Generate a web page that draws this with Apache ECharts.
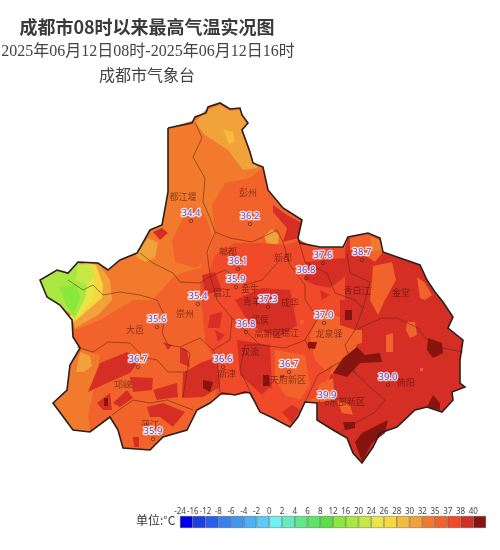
<!DOCTYPE html>
<html>
<head>
<meta charset="utf-8">
<style>html,body{margin:0;background:#fff}#chart{width:500px;height:550px}</style>
<script src="https://cdn.jsdelivr.net/npm/echarts@6/dist/echarts.min.js"></script>
</head>
<body>
<div id="chart"></div>
<script>
// colour scale (°C)
const scaleTicks = [-24,-16,-12,-8,-6,-4,-2,0,2,4,6,8,12,16,20,24,26,28,30,32,35,37,38,40];
const scaleColors = ["#0000e6","#1d3fe2","#2a5fee","#3a7fee","#3f96ec","#4cb0f2","#5ccbf5","#6ff0f2","#66eac0","#62e68e","#5ee466","#58e044","#8ae83c","#a9e840","#c8e845","#e8e648","#f8d640","#f5bb3c","#f2a23a","#f27a2d","#f2622b","#f04a2a","#d52e24","#881410"];

// stations
const stationValues = [34.4,36.2,36.1,35.9,35.4,37.3,36.8,36.8,37.6,38.7,37.0,36.7,36.6,39.9,39.0,35.6,36.7,35.9];
const stationX = [191,250,238,236,198,268,246,306,323,362,324,289,223,327,388,157,138,153];
const stationY = [221,224,269,287,304,307,332,278,263,260,323,372,367,403,385,327,367,439];

// district names
const districtNames = ["都江堰","彭州","郫都","新都","青白江","金堂","温江","崇州","大邑","邛崃","蒲江","新津","双流","天府新区","龙泉驿","简阳","东部新区","金牛","青羊","成华","武侯","高新区","锦江"];
const districtX = [183,248,228,283,357,401,222,185,135,123,150,227,250,288,329,406,347,250,252,290,260,268,290];
const districtY = [197,193,252,258,291,293,293,314,330,385,425,374,352,380,334,383,402,289,302,303,320,334,333];

// map sheet: x east, y south
const outline = [[168,128],[192,123],[195,117],[206,113],[208,107],[220,103],[230,109],[240,108],[242,115],[248,123],[242,130],[250,152],[253,163],[263,167],[268,190],[283,208],[302,220],[298,238],[300,243],[320,247],[343,247],[348,237],[368,233],[380,238],[383,252],[400,258],[420,265],[427,280],[435,292],[443,302],[453,317],[448,328],[463,340],[460,360],[460,383],[465,387],[452,392],[453,400],[442,412],[427,407],[415,410],[397,427],[380,433],[373,447],[362,463],[353,453],[347,438],[333,430],[317,420],[317,403],[305,402],[298,417],[290,427],[273,418],[260,412],[255,402],[250,393],[245,392],[235,395],[222,393],[210,403],[197,410],[187,430],[163,437],[150,450],[123,448],[118,430],[110,417],[90,432],[73,430],[53,403],[67,390],[70,365],[80,348],[73,337],[72,320],[60,305],[47,297],[40,280],[57,270],[68,273],[78,262],[98,263],[108,270],[120,260],[137,253],[140,248],[150,230],[162,225],[168,192]];

const districtLines = [
  [[195,122],[202,138],[193,157],[205,178],[203,202],[210,218],[215,232],[207,252],[210,275],[217,300],[232,318],[230,340],[213,350]],
  [[215,232],[230,238],[252,242],[263,237],[277,230],[283,242],[290,265],[305,285],[305,300],[318,318],[305,340],[285,348],[260,345],[240,325],[232,318]],
  [[140,253],[153,263],[173,273],[180,282],[200,283],[207,278],[225,270],[245,285],[262,280],[280,260]],
  [[68,280],[83,290],[93,285],[103,295],[120,292],[140,295],[157,300],[165,317],[162,333],[168,345],[180,347],[200,338],[213,350],[217,357],[220,392]],
  [[77,347],[93,352],[108,342],[130,343],[143,357],[157,360],[168,372],[187,372],[190,353],[182,348]],
  [[112,415],[133,400],[150,403],[167,400],[193,410]],
  [[187,372],[183,397]],
  [[298,238],[305,262],[327,273],[335,293],[355,300],[363,308]],
  [[347,253],[350,273],[370,282],[363,308],[355,330],[382,318],[397,318],[418,328],[425,338],[443,348],[463,352]],
  [[355,330],[345,345],[355,373],[370,387],[385,400],[375,412],[343,430]],
  [[355,373],[340,362],[318,375],[305,402]],
  [[310,350],[305,340]],
  [[255,402],[240,370],[245,345],[260,345]]
];

// temperature patches, painted in this order over the outline
const heatValues = [33,36,31,31,29,38,38,38,31,31,
  30,27,25,18,22,13,33,31,
  37.5,39,36,36,39,39,39,39,39,39,39,39,
  36,33,36,36,36,36,36,36,36,39,39,36,36,
  39,39,39,39,39,39,39,39,39,39,39,39,40,40,40,40,40,40,40,40,40,40];
const heatRings = [
  [[168,128],[195,120],[208,108],[220,104],[230,110],[240,109],[247,123],[242,130],[250,152],[253,163],[262,168],[250,178],[225,183],[212,205],[215,232],[208,255],[200,268],[185,272],[173,277],[153,300],[133,300],[100,320],[75,330],[72,320],[60,305],[47,297],[40,280],[57,270],[68,273],[78,262],[98,263],[108,270],[120,260],[137,253],[140,248],[150,230],[162,225],[168,192]],
  [[190,205],[205,215],[212,235],[205,262],[195,268],[175,262],[172,240]],
  [[135,256],[148,238],[158,243],[155,258],[145,262]],
  [[195,122],[208,110],[220,105],[230,111],[240,110],[246,123],[241,131],[248,150],[252,160],[258,168],[243,170],[228,150],[205,135]],
  [[223,129],[233,132],[235,142],[229,144]],
  [[153,232],[162,228],[168,233],[160,240]],
  [[273,205],[287,215],[302,223],[298,238],[283,242],[287,228],[273,212]],
  [[277,245],[293,246],[295,260],[278,265]],
  [[264,236],[272,229],[279,235],[278,247],[270,250]],
  [[296,258],[302,252],[308,258],[304,268],[298,266]],
  [[88,263],[100,265],[110,280],[112,300],[98,315],[75,328],[73,320],[80,305]],
  [[85,263],[96,265],[103,285],[102,298],[88,310],[74,322],[72,318]],
  [[80,264],[90,265],[95,285],[92,300],[78,318],[70,318]],
  [[41,280],[57,271],[68,274],[78,263],[86,266],[88,280],[85,298],[75,318],[60,305],[47,297]],
  [[78,265],[90,264],[95,275],[88,285],[76,280]],
  [[60,288],[76,284],[80,298],[74,315],[66,305]],
  [[70,365],[82,350],[100,355],[95,385],[88,415],[90,432],[73,430],[53,403],[67,390]],
  [[80,352],[90,356],[92,366],[84,372],[76,372]],
  [[200,283],[207,278],[215,255],[235,243],[263,243],[285,245],[300,240],[315,248],[345,248],[345,300],[345,340],[320,395],[305,402],[298,417],[290,425],[273,417],[258,410],[250,393],[235,395],[215,395],[220,370],[205,340]],
  [[345,248],[348,238],[368,234],[380,239],[383,252],[400,258],[420,265],[427,280],[435,292],[443,302],[453,317],[448,328],[463,340],[460,360],[460,383],[465,387],[452,392],[453,400],[442,412],[427,407],[415,410],[397,427],[380,433],[373,447],[362,463],[353,453],[347,438],[333,430],[317,420],[317,403],[325,395],[330,375],[350,365],[360,335],[345,300]],
  [[322,310],[345,320],[353,335],[345,355],[325,370],[315,360],[310,335]],
  [[275,350],[305,355],[310,385],[300,400],[285,395],[275,380]],
  [[202,275],[215,272],[222,290],[205,295]],
  [[210,315],[222,312],[220,328],[208,328]],
  [[235,300],[262,288],[290,290],[297,325],[278,338],[250,325]],
  [[237,340],[270,345],[272,385],[262,395],[240,375]],
  [[282,412],[292,405],[300,410],[292,423]],
  [[305,262],[345,258],[347,275],[330,288],[315,285],[305,280]],
  [[340,300],[360,300],[365,320],[355,330],[340,325]],
  [[133,437],[139,437],[139,447],[134,447]],
  [[350,238],[368,234],[379,240],[383,252],[375,262],[360,252],[350,250]],
  [[370,236],[380,240],[383,250],[372,252]],
  [[373,266],[392,262],[396,280],[385,300],[378,315],[370,300],[372,280]],
  [[417,277],[425,283],[432,295],[425,300],[420,298]],
  [[407,322],[415,322],[417,335],[410,338],[406,330]],
  [[386,335],[393,333],[393,352],[386,352]],
  [[355,330],[362,330],[362,343],[355,345]],
  [[337,400],[350,405],[353,415],[342,413]],
  [[318,385],[333,378],[335,400],[320,402]],
  [[163,342],[172,345],[168,350]],
  [[280,375],[284,375],[284,378],[280,378]],
  [[300,320],[304,320],[304,324],[300,324]],
  [[420,368],[423,368],[423,371],[420,371]],
  [[88,392],[100,363],[127,352],[140,360],[130,373],[107,383]],
  [[130,377],[153,378],[152,390],[133,392]],
  [[97,403],[110,393],[112,410],[103,410]],
  [[113,403],[127,390],[133,398],[120,407]],
  [[153,390],[177,383],[178,397],[157,400]],
  [[147,407],[163,403],[185,412],[173,427],[160,417],[150,417]],
  [[180,347],[187,350],[190,367],[180,363]],
  [[183,373],[200,363],[217,357],[220,387],[203,397],[182,398]],
  [[262,372],[271,372],[272,388],[262,388]],
  [[355,255],[362,262],[350,268]],
  [[320,290],[330,295],[322,300]],
  [[215,330],[225,335],[218,342]],
  [[203,380],[213,382],[210,392],[203,388]],
  [[333,373],[343,358],[357,347],[365,355],[380,353],[382,362],[360,363],[347,377]],
  [[428,338],[442,343],[443,353],[433,358],[427,350]],
  [[355,442],[362,433],[388,420],[385,433],[372,443],[362,462]],
  [[427,407],[433,395],[440,403],[440,410]],
  [[343,422],[355,422],[355,428],[345,430]],
  [[345,310],[352,310],[352,320],[345,320]],
  [[308,342],[317,342],[315,349],[308,348]],
  [[263,375],[269,375],[270,386],[263,386]],
  [[104,398],[108,398],[108,406],[104,406]]
];

const ringName = i => "patch" + i;
const features = [{ type: "Feature", properties: { name: "base" }, geometry: { type: "Polygon", coordinates: [outline.concat([outline[0]])] } }];
heatRings.forEach((ring, i) => {
  features.push({ type: "Feature", properties: { name: ringName(i) }, geometry: { type: "Polygon", coordinates: [ring.concat([ring[0]])] } });
});
echarts.registerMap("chengdu", { type: "FeatureCollection", features: features });

const chart = echarts.init(document.getElementById("chart"));

const pieces = scaleTicks.map((t, i) => (
  i < scaleTicks.length - 1
    ? { gte: t, lt: scaleTicks[i + 1], color: scaleColors[i] }
    : { gte: t, color: scaleColors[i] }
));

const legendSeries = scaleTicks.map((t, i) => ({
  type: "bar",
  stack: "scale",
  xAxisIndex: 0,
  yAxisIndex: 0,
  data: [1],
  barWidth: "100%",
  silent: true,
  itemStyle: { color: scaleColors[i], borderColor: "rgba(40,40,40,0.55)", borderWidth: 0.6 }
}));

chart.setOption({
  animation: false,
  backgroundColor: "#fff",
  title: [
    { text: "成都市08时以来最高气温实况图", left: 142, top: 13, textAlign: "center",
      textStyle: { fontFamily: "Noto Sans CJK SC", fontSize: 18, fontWeight: "bold", color: "#3a3a3a" } },
    { text: "2025年06月12日08时-2025年06月12日16时", left: 143, top: 39, textAlign: "center",
      textStyle: { fontFamily: "'Liberation Serif','Noto Sans CJK SC'", fontSize: 16, fontWeight: "normal", color: "#444" } },
    { text: "成都市气象台", left: 142, top: 62, textAlign: "center",
      textStyle: { fontFamily: "Noto Sans CJK SC", fontSize: 16, fontWeight: "normal", color: "#444" } },
    { text: "单位:°C", left: 131, top: 509,
      textStyle: { fontFamily: "Noto Sans CJK SC", fontSize: 12, fontWeight: "normal", color: "#333" } }
  ],
  visualMap: { show: false, type: "piecewise", seriesIndex: 0, pieces: pieces },
  geo: {
    map: "chengdu",
    projection: { project: p => p, unproject: p => p },
    left: 40, top: 103, width: 425, height: 360,
    silent: true,
    label: { show: false },
    itemStyle: { borderWidth: 0, areaColor: "#f2622b" },
    emphasis: { disabled: true }
  },
  grid: { left: 180, top: 516, width: 306, height: 12 },
  xAxis: {
    type: "value", position: "top", min: 0, max: scaleTicks.length, interval: 1,
    axisLine: { show: false }, axisTick: { show: false }, splitLine: { show: false },
    axisLabel: { margin: 0, fontSize: 8, color: "#444", fontFamily: "Noto Sans", showMinLabel: true, showMaxLabel: false, hideOverlap: false,
      formatter: v => (v < scaleTicks.length ? String(scaleTicks[v]) : "") }
  },
  yAxis: { type: "category", show: false, data: ["scale"] },
  series: [
    {
      type: "map",
      geoIndex: 0,
      silent: true,
      data: [{ name: "base", value: 36 }].concat(heatValues.map((v, i) => ({ name: ringName(i), value: v })))
    },
    {
      type: "lines",
      coordinateSystem: "geo",
      polyline: true,
      silent: true,
      z: 3,
      lineStyle: { color: "rgba(95,40,20,0.7)", width: 0.8, opacity: 1 },
      data: districtLines.map(c => ({ coords: c }))
    },
    {
      type: "lines",
      coordinateSystem: "geo",
      polyline: true,
      silent: true,
      z: 4,
      lineStyle: { color: "#2b211c", width: 1.6, opacity: 1 },
      data: [{ coords: outline.concat([outline[0]]) }]
    },
    {
      type: "scatter",
      coordinateSystem: "geo",
      symbolSize: 0,
      silent: true,
      z: 5,
      label: { show: true, position: "inside", formatter: p => p.name, fontFamily: "Noto Sans CJK SC", fontSize: 9, color: "rgba(60,20,10,0.75)" },
      data: districtNames.map((n, i) => ({ name: n, value: [districtX[i], districtY[i]] }))
    },
    {
      type: "scatter",
      coordinateSystem: "geo",
      symbol: "circle",
      symbolSize: 3.5,
      silent: true,
      z: 6,
      itemStyle: { color: "rgba(0,0,0,0)", borderColor: "#4a2a20", borderWidth: 0.8 },
      label: { show: true, position: "top", distance: 1, formatter: p => p.value[2].toFixed(1),
        fontFamily: "Noto Sans", fontSize: 9.5, color: "#2a1cc8", textBorderColor: "#fff", textBorderWidth: 2.5 },
      data: stationValues.map((v, i) => ({ value: [stationX[i], stationY[i], v] }))
    }
  ].concat(legendSeries)
});
window.addEventListener("resize", () => chart.resize());
</script>
</body>
</html>
